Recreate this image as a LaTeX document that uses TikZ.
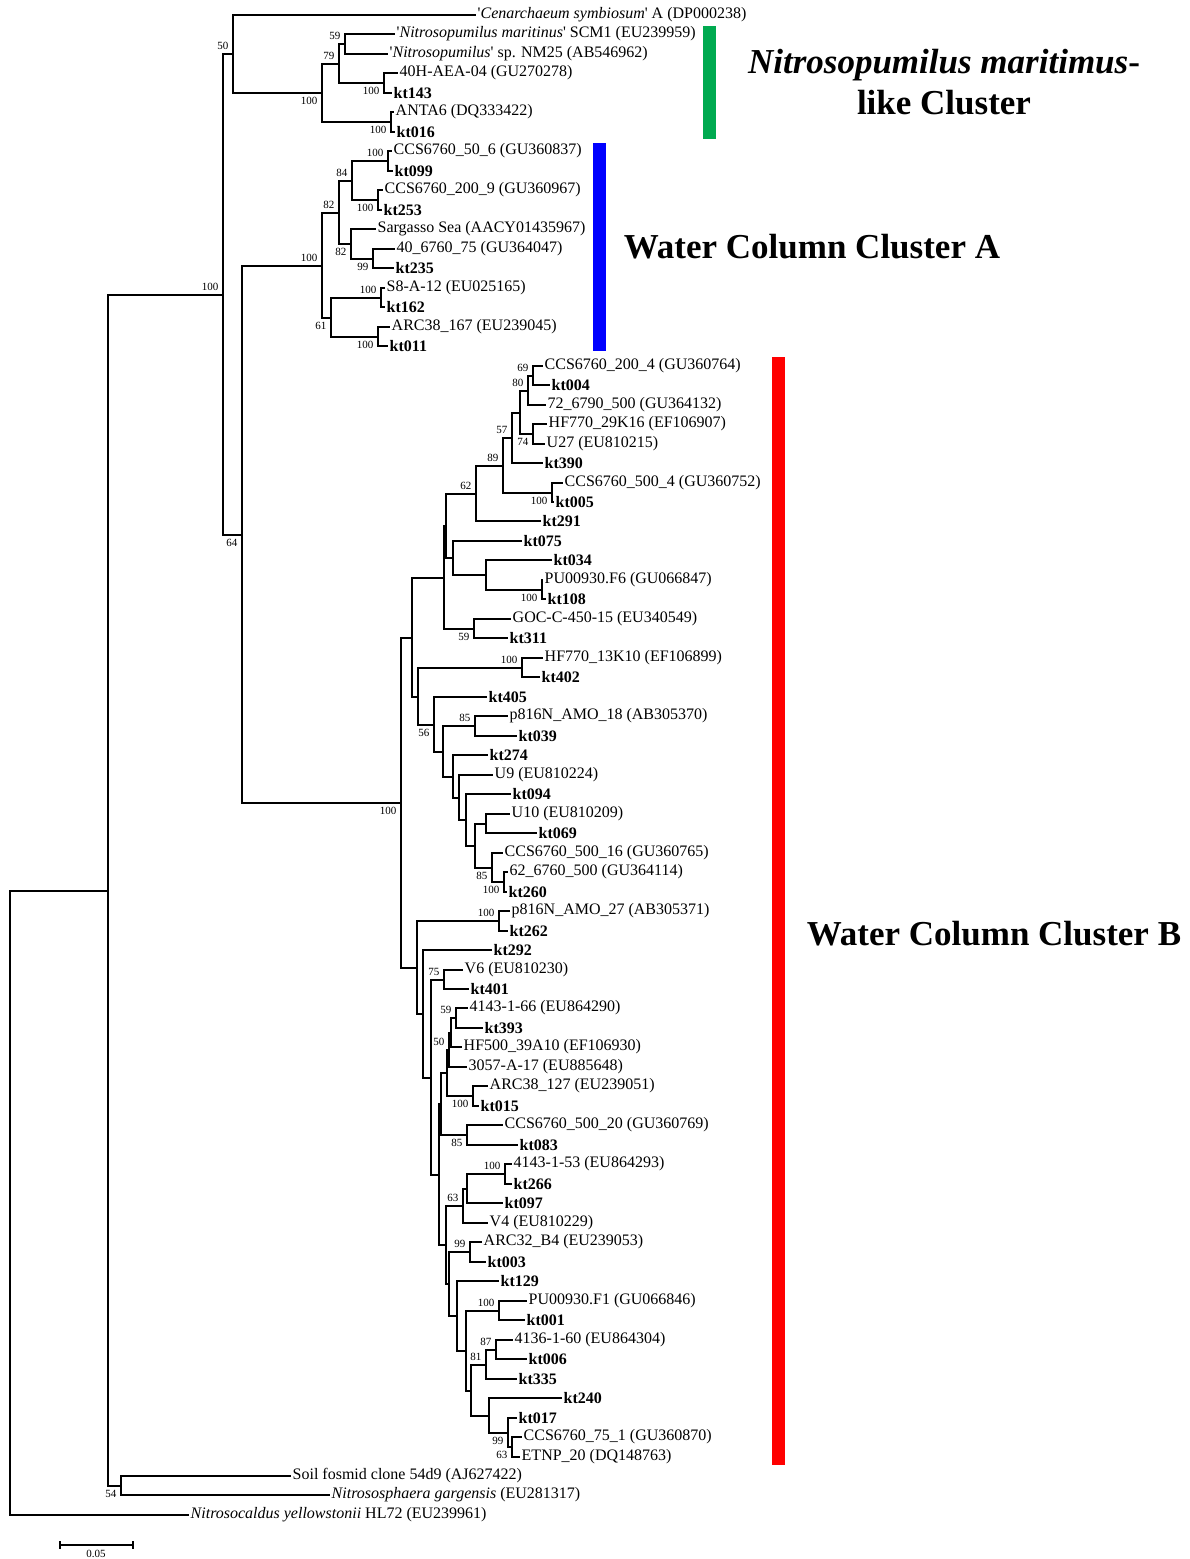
\documentclass[tikz,border=0pt]{standalone}
\usepackage{fontspec}
\setmainfont{Liberation Serif}
\usetikzlibrary{calc}
\definecolor{barG}{RGB}{0,170,80}
\definecolor{barB}{RGB}{0,0,255}
\definecolor{barR}{RGB}{255,0,0}
\tikzset{br/.style={line width=2pt, line join=miter},
  lf/.style={anchor=west, inner sep=1.5pt, font=\fontsize{16}{16}\selectfont},
  lfk/.style={lf, font=\fontsize{16}{16}\selectfont\bfseries},
  bs/.style={inner sep=0pt, font=\fontsize{11}{11}\selectfont},
  bsa/.style={anchor=south east, xshift=-4.5pt, yshift=4pt},
  bsb/.style={anchor=north east, xshift=-4.5pt, yshift=-4pt},
  clab/.style={font=\fontsize{35}{41}\selectfont\bfseries, align=center}}
\newcommand\q{\textquotesingle}
% leaf: name, tip x, row, text
\newcommand\leaf[4]{\coordinate (#1) at ({round(#2)},{round(15+19.48*#3)});
  \node[lf] (#1t) at (#1) {#4};}
\newcommand\kleaf[4]{\coordinate (#1) at ({round(#2)},{round(15+19.48*#3)});
  \node[lfk] (#1t) at (#1) {#4};}
% clade: name, x, upper child, lower child, support, side
\newcommand\clade[6]{\path let \p1=($(#3)!.5!(#4)$), \n1={round(\y1)}, \n2={round(#2)} in
    coordinate (#1) at (\n2 pt,\n1);
  \draw[br] (#1) |- (#3) (#1) |- (#4);
  \if\relax\detokenize{#5}\relax\else\node[bs,#6] (#1b) at (#1) {#5};\fi}

\begin{document}
\begin{tikzpicture}[x=1pt, y=-1pt]
\useasboundingbox (0,0) rectangle (1190,1559);

% leaves
\leaf{l0}{476}{0}{\q\textit{Cenarchaeum symbiosum}\q{} A (DP000238)}
\leaf{l1}{395}{1}{\q\textit{Nitrosopumilus maritinus}\q{} SCM1 (EU239959)}
\leaf{l2}{388}{2}{\q\textit{Nitrosopumilus}\q{} sp. NM25 (AB546962)}
\leaf{l3}{398}{3}{40H-AEA-04 (GU270278)}
\kleaf{l4}{392}{4}{kt143}
\leaf{l5}{394}{5}{ANTA6 (DQ333422)}
\kleaf{l6}{395}{6}{kt016}
\leaf{l7}{392}{7}{CCS6760\_50\_6 (GU360837)}
\kleaf{l8}{393}{8}{kt099}
\leaf{l9}{383}{9}{CCS6760\_200\_9 (GU360967)}
\kleaf{l10}{382}{10}{kt253}
\leaf{l11}{376}{11}{Sargasso Sea (AACY01435967)}
\leaf{l12}{395}{12}{40\_6760\_75 (GU364047)}
\kleaf{l13}{394}{13}{kt235}
\leaf{l14}{385}{14}{S8-A-12 (EU025165)}
\kleaf{l15}{385}{15}{kt162}
\leaf{l16}{390}{16}{ARC38\_167 (EU239045)}
\kleaf{l17}{388}{17}{kt011}
\leaf{l18}{543}{18}{CCS6760\_200\_4 (GU360764)}
\kleaf{l19}{550}{19}{kt004}
\leaf{l20}{545.7}{20}{72\_6790\_500 (GU364132)}
\leaf{l21}{547}{21}{HF770\_29K16 (EF106907)}
\leaf{l22}{545}{22}{U27 (EU810215)}
\kleaf{l23}{543}{23}{kt390}
\leaf{l24}{563}{24}{CCS6760\_500\_4 (GU360752)}
\kleaf{l25}{554}{25}{kt005}
\kleaf{l26}{541}{26}{kt291}
\kleaf{l27}{521.7}{27}{kt075}
\kleaf{l28}{551.7}{28}{kt034}
\leaf{l29}{543}{29}{PU00930.F6 (GU066847)}
\kleaf{l30}{546}{30}{kt108}
\leaf{l31}{510.7}{31}{GOC-C-450-15 (EU340549)}
\kleaf{l32}{507.7}{32}{kt311}
\leaf{l33}{542.7}{33}{HF770\_13K10 (EF106899)}
\kleaf{l34}{540}{34}{kt402}
\kleaf{l35}{486.7}{35}{kt405}
\leaf{l36}{508.3}{36}{p816N\_AMO\_18 (AB305370)}
\kleaf{l37}{516.7}{37}{kt039}
\kleaf{l38}{488.3}{38}{kt274}
\leaf{l39}{493.3}{39}{U9 (EU810224)}
\kleaf{l40}{510.7}{40}{kt094}
\leaf{l41}{510}{41}{U10 (EU810209)}
\kleaf{l42}{536.7}{42}{kt069}
\leaf{l43}{502.7}{43}{CCS6760\_500\_16 (GU360765)}
\leaf{l44}{508.3}{44}{62\_6760\_500 (GU364114)}
\kleaf{l45}{507}{45}{kt260}
\leaf{l46}{510}{46}{p816N\_AMO\_27 (AB305371)}
\kleaf{l47}{508}{47}{kt262}
\kleaf{l48}{491.7}{48}{kt292}
\leaf{l49}{462.7}{49}{V6 (EU810230)}
\kleaf{l50}{469.3}{50}{kt401}
\leaf{l51}{468.3}{51}{4143-1-66 (EU864290)}
\kleaf{l52}{482.7}{52}{kt393}
\leaf{l53}{461.7}{53}{HF500\_39A10 (EF106930)}
\leaf{l54}{467.3}{54}{3057-A-17 (EU885648)}
\leaf{l55}{488.3}{55}{ARC38\_127 (EU239051)}
\kleaf{l56}{479.3}{56}{kt015}
\leaf{l57}{502.7}{57}{CCS6760\_500\_20 (GU360769)}
\kleaf{l58}{518.3}{58}{kt083}
\leaf{l59}{511.7}{59}{4143-1-53 (EU864293)}
\kleaf{l60}{512}{60}{kt266}
\kleaf{l61}{502.7}{61}{kt097}
\leaf{l62}{488.3}{62}{V4 (EU810229)}
\leaf{l63}{481.7}{63}{ARC32\_B4 (EU239053)}
\kleaf{l64}{486}{64}{kt003}
\kleaf{l65}{499.3}{65}{kt129}
\leaf{l66}{526.7}{66}{PU00930.F1 (GU066846)}
\kleaf{l67}{525}{67}{kt001}
\leaf{l68}{513.3}{68}{4136-1-60 (EU864304)}
\kleaf{l69}{526.7}{69}{kt006}
\kleaf{l70}{517.3}{70}{kt335}
\kleaf{l71}{561.7}{71}{kt240}
\kleaf{l72}{516.7}{72}{kt017}
\leaf{l73}{521.7}{73}{CCS6760\_75\_1 (GU360870)}
\leaf{l74}{520}{74}{ETNP\_20 (DQ148763)}
\leaf{l75}{291}{75}{Soil fosmid clone 54d9 (AJ627422)}
\leaf{l76}{330}{76}{\textit{Nitrososphaera gargensis} (EU281317)}
\leaf{l77}{189}{77}{\textit{Nitrosocaldus yellowstonii} HL72 (EU239961)}

% N. maritimus-like cluster
\clade{n59t}{345}{l1}{l2}{59}{bsa}
\clade{n143}{384}{l3}{l4}{100}{bsb}
\clade{n79}{339}{n59t}{n143}{79}{bsa}
\clade{nAN}{391}{l5}{l6}{100}{bsb}
\clade{nNc}{322}{n79}{nAN}{100}{bsb}
\clade{nC50}{233}{l0}{nNc}{50}{bsa}

% water column cluster A
\clade{n099}{388}{l7}{l8}{100}{bsa}
\clade{n253}{378}{l9}{l10}{100}{bsb}
\clade{n84}{352}{n099}{n253}{84}{bsa}
\clade{n235}{372.5}{l12}{l13}{99}{bsb}
\clade{n82b}{351}{l11}{n235}{82}{bsb}
\clade{n82a}{339}{n84}{n82b}{82}{bsa}
\clade{n162}{380.5}{l14}{l15}{100}{bsa}
\clade{n011}{378}{l16}{l17}{100}{bsb}
\clade{n61}{331}{n162}{n011}{61}{bsb}
\clade{nWA}{322}{n82a}{n61}{100}{bsa}

% water column cluster B, upper half
\clade{n69}{532.7}{l18}{l19}{69}{bsa}
\clade{n80}{527.7}{n69}{l20}{80}{bsa}
\clade{n74}{533.3}{l21}{l22}{74}{bsb}
\clade{nK}{520}{n80}{n74}{}{}
\clade{n57}{511.7}{nK}{l23}{57}{bsa}
\clade{n005}{551.7}{l24}{l25}{100}{bsb}
\clade{n89}{503.3}{n57}{n005}{89}{bsa}
\clade{n62}{476}{n89}{l26}{62}{bsa}
\clade{n108}{541.7}{l29}{l30}{100}{bsb}
\clade{nH}{486}{l28}{n108}{}{}
\clade{nG}{452.7}{l27}{nH}{}{}
\clade{nU3}{445.7}{n62}{nG}{}{}
\clade{n311}{474.3}{l31}{l32}{59}{bsb}
\clade{nU2}{444.3}{nU3}{n311}{}{}
\clade{n402}{521.7}{l33}{l34}{100}{bsa}
\clade{n039}{475}{l36}{l37}{85}{bsa}
\clade{n069}{486}{l41}{l42}{}{}
\clade{n260}{504.3}{l44}{l45}{100}{bsb}
\clade{n85b}{491.7}{l43}{n260}{85}{bsb}
\clade{nN9}{475}{n069}{n85b}{}{}
\clade{nN8}{466}{l40}{nN9}{}{}
\clade{nN7}{459.3}{l39}{nN8}{}{}
\clade{nN6}{452.7}{l38}{nN7}{}{}
\clade{nN5}{442.7}{n039}{nN6}{}{}
\clade{n56}{434.3}{l35}{nN5}{56}{bsb}
\clade{nL1}{417.7}{n402}{n56}{}{}
\clade{nU1}{412}{nU2}{nL1}{}{}

% water column cluster B, lower half
\clade{n262}{499.3}{l46}{l47}{100}{bsa}
\clade{n401}{444}{l49}{l50}{75}{bsa}
\clade{n393}{456}{l51}{l52}{59}{bsa}
\clade{nI}{450.7}{n393}{l53}{}{}
\clade{n50}{449}{nI}{l54}{50}{bsa}
\clade{n015}{473.3}{l55}{l56}{100}{bsb}
\clade{nP}{446.5}{n50}{n015}{}{}
\clade{n083}{467.3}{l57}{l58}{85}{bsb}
\clade{nQ}{441}{nP}{n083}{}{}
\clade{n266}{505}{l59}{l60}{100}{bsa}
\clade{nT2}{467.3}{n266}{l61}{}{}
\clade{nT}{462.7}{nT2}{l62}{63}{bsa}
\clade{n003}{470}{l63}{l64}{99}{bsa}
\clade{n001}{499.3}{l66}{l67}{100}{bsa}
\clade{n006}{496}{l68}{l69}{87}{bsa}
\clade{n81}{486}{n006}{l70}{81}{bsa}
\clade{n63b}{511.7}{l73}{l74}{63}{bsb}
\clade{nZ}{508.3}{l72}{n63b}{99}{bsb}
\clade{nY}{489.3}{l71}{nZ}{}{}
\clade{nX2}{470.7}{n81}{nY}{}{}
\clade{nW}{466}{n001}{nX2}{}{}
\clade{nV}{457.3}{l65}{nW}{}{}
\clade{nU}{449.3}{n003}{nV}{}{}
\clade{nS}{446}{nT}{nU}{}{}
\clade{nR}{439.3}{nQ}{nS}{}{}
\clade{nM3}{430.7}{n401}{nR}{}{}
\clade{nM2}{422.7}{l48}{nM3}{}{}
\clade{nM1}{417.3}{n262}{nM2}{}{}
\clade{nB}{401}{nU1}{nM1}{100}{bsb}

% backbone and outgroups
\clade{n64}{242}{nWA}{nB}{64}{bsb}
\clade{nX}{223}{nC50}{n64}{100}{bsa}
\clade{n54}{121}{l75}{l76}{54}{bsb}
\clade{nA}{108}{nX}{n54}{}{}
\clade{nRoot}{10}{nA}{l77}{}{}

% cluster bars and names
\fill[barG] (703,26) rectangle (716,139);
\fill[barB] (593,143) rectangle (606,351);
\fill[barR] (772,357) rectangle (785,1465);
\node[clab] (cNm) at (944,82) {\textit{Nitrosopumilus maritimus}-\\like Cluster};
\node[clab] (cWA) at (812,247) {Water Column Cluster A};
\node[clab] (cWB) at (994,934) {Water Column Cluster B};

% scale bar
\coordinate (sbL) at (60,1545);
\coordinate (sbR) at (133,1545);
\draw[br] (sbL) -- (sbR);
\draw[br] ([yshift=4pt]sbL) -- ([yshift=-4pt]sbL);
\draw[br] ([yshift=4pt]sbR) -- ([yshift=-4pt]sbR);
\node[bs] (sbt) at (96,1554) {0.05};
\end{tikzpicture}
\end{document}
